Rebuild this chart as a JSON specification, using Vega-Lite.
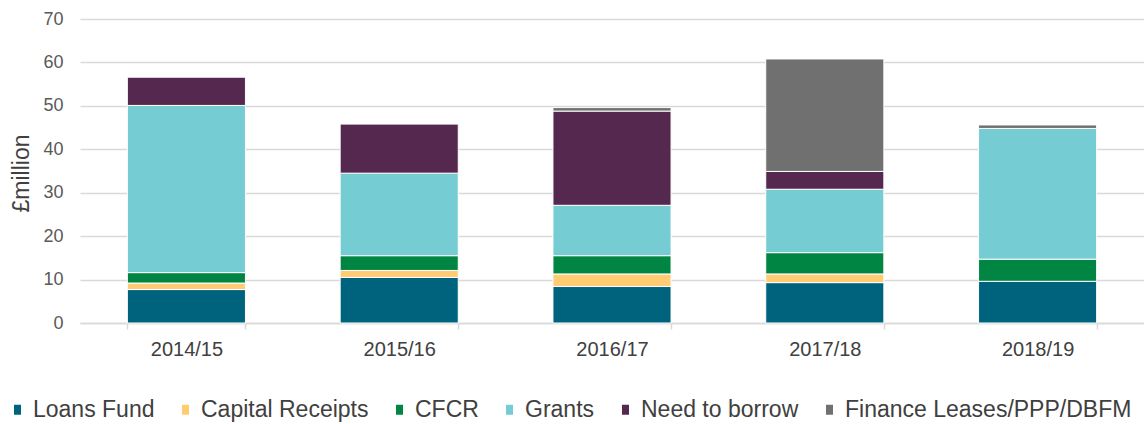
{
  "$schema": "https://vega.github.io/schema/vega-lite/v6.json",
  "autosize": {"type": "none"},
  "padding": {"left": 80, "top": 19, "right": 0, "bottom": 101},
  "width": 1064,
  "height": 304,
  "background": "white",
  "data": {
    "values": [
      {"year": "2014/15", "source": "Loans Fund", "order": 1, "value": 7.7},
      {"year": "2014/15", "source": "Capital Receipts", "order": 2, "value": 1.5},
      {"year": "2014/15", "source": "CFCR", "order": 3, "value": 2.4},
      {"year": "2014/15", "source": "Grants", "order": 4, "value": 38.5},
      {"year": "2014/15", "source": "Need to borrow", "order": 5, "value": 6.5},
      {"year": "2015/16", "source": "Loans Fund", "order": 1, "value": 10.5},
      {"year": "2015/16", "source": "Capital Receipts", "order": 2, "value": 1.6},
      {"year": "2015/16", "source": "CFCR", "order": 3, "value": 3.4},
      {"year": "2015/16", "source": "Grants", "order": 4, "value": 19.0},
      {"year": "2015/16", "source": "Need to borrow", "order": 5, "value": 11.3},
      {"year": "2016/17", "source": "Loans Fund", "order": 1, "value": 8.4},
      {"year": "2016/17", "source": "Capital Receipts", "order": 2, "value": 2.9},
      {"year": "2016/17", "source": "CFCR", "order": 3, "value": 4.2},
      {"year": "2016/17", "source": "Grants", "order": 4, "value": 11.6},
      {"year": "2016/17", "source": "Need to borrow", "order": 5, "value": 21.7},
      {"year": "2016/17", "source": "Finance Leases/PPP/DBFM", "order": 6, "value": 0.8},
      {"year": "2017/18", "source": "Loans Fund", "order": 1, "value": 9.3},
      {"year": "2017/18", "source": "Capital Receipts", "order": 2, "value": 2.0},
      {"year": "2017/18", "source": "CFCR", "order": 3, "value": 4.9},
      {"year": "2017/18", "source": "Grants", "order": 4, "value": 14.6},
      {"year": "2017/18", "source": "Need to borrow", "order": 5, "value": 4.1},
      {"year": "2017/18", "source": "Finance Leases/PPP/DBFM", "order": 6, "value": 25.9},
      {"year": "2018/19", "source": "Loans Fund", "order": 1, "value": 9.6},
      {"year": "2018/19", "source": "CFCR", "order": 3, "value": 5.1},
      {"year": "2018/19", "source": "Grants", "order": 4, "value": 30.1},
      {"year": "2018/19", "source": "Finance Leases/PPP/DBFM", "order": 6, "value": 0.8}
    ]
  },
  "mark": {"type": "bar", "stroke": "white", "strokeWidth": 1},
  "encoding": {
    "x": {
      "field": "year",
      "type": "nominal",
      "sort": null,
      "scale": {"paddingInner": 0.445, "paddingOuter": 0.2225},
      "axis": {
        "title": null,
        "labelAngle": 0,
        "labelFont": "Liberation Sans",
        "labelFontSize": 20,
        "labelColor": "#404040",
        "labelPadding": 10,
        "tickBand": "extent",
        "ticks": true,
        "tickSize": 6,
        "tickColor": "#d9d9d9",
        "tickWidth": 1.5,
        "domainColor": "#d9d9d9",
        "domainWidth": 1.5,
        "grid": false
      }
    },
    "y": {
      "field": "value",
      "type": "quantitative",
      "stack": "zero",
      "scale": {"domain": [0, 70], "nice": false},
      "axis": {
        "title": "£million",
        "titleFont": "Liberation Sans",
        "titleFontSize": 23,
        "titleFontWeight": "normal",
        "titleColor": "#404040",
        "titleAngle": -90,
        "titleX": -59,
        "titleY": 154,
        "titleAlign": "center",
        "titleBaseline": "middle",
        "values": [0, 10, 20, 30, 40, 50, 60, 70],
        "labelFont": "Liberation Sans",
        "labelFontSize": 18,
        "labelColor": "#595959",
        "labelPadding": 17,
        "ticks": false,
        "domain": false,
        "grid": true,
        "gridColor": "#d9d9d9",
        "gridWidth": 1.5
      }
    },
    "color": {
      "field": "source",
      "type": "nominal",
      "scale": {
        "domain": ["Loans Fund", "Capital Receipts", "CFCR", "Grants", "Need to borrow", "Finance Leases/PPP/DBFM"],
        "range": ["#00637E", "#FFCC73", "#008542", "#75CCD2", "#55294F", "#707070"]
      },
      "legend": {
        "title": null,
        "orient": "none",
        "direction": "horizontal",
        "legendX": -74,
        "legendY": 379,
        "columns": 6,
        "symbolType": "M-0.7,-1L0.7,-1L0.7,1L-0.7,1Z",
        "symbolSize": 100,
        "symbolStrokeWidth": 0,
        "labelFont": "Liberation Sans",
        "labelFontSize": 23,
        "labelColor": "#404040",
        "labelOffset": 4,
        "labelLimit": 0,
        "columnPadding": 19
      }
    },
    "order": {"field": "order", "type": "quantitative", "sort": "ascending"}
  },
  "config": {"view": {"stroke": null}}
}
